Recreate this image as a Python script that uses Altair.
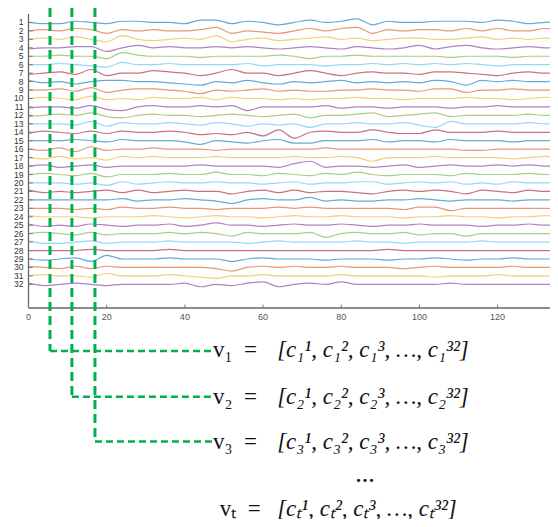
import altair as alt
import pandas as pd

# sample positions (time index) shared by every channel
t_index = [0, 4, 8, 12, 16, 20, 24, 28, 32, 36, 40, 44, 48, 52, 56, 60, 64, 68,
           72, 76, 80, 84, 88, 92, 96, 100, 104, 108, 112, 116, 120, 124, 128, 132, 136]

# amplitude of each channel (pixels up from the baseline)
ch01 = [0,-1,-1,1,0,-1,1,1,0,0,-1,2,2,-1,1,0,-2,0, 2,0,1,3,-2,1,0,0,1,1,1,0,2,1,-1,0,1]
ch02 = [0,1,0,2,1,-2,1,0,1,0,0,1,3,-2,0,-1,-2,0, 2,0,2,3,-2,1,0,1,1,0,2,0,2,0,0,2,1]
ch03 = [0,1,0,2,0,-2,3,0,-1,0,1,0,3,-2,0,1,-1,0, 1,2,0,1,-1,0,1,1,0,0,1,2,0,1,0,1,0]
ch04 = [-1,0,0,1,1,-3,0,2,0,1,0,0,1,0,1,0,-1,0, 1,0,-1,1,0,-1,0,2,-1,1,2,0,-1,0,1,0,0]
ch05 = [0,0,1,0,0,-2,3,1,0,0,0,-1,0,0,0,0,1,0, -2,0,0,1,0,0,0,0,0,-1,0,0,0,-1,0,0,0]
ch06 = [0,0,1,0,-1,-2,2,0,0,1,0,0,0,0,1,-1,0,0, 0,-1,0,0,1,0,1,0,1,0,1,0,-1,0,0,0,1]
ch07 = [-1,0,1,-1,3,-2,0,0,2,1,0,-2,0,3,0,0,-2,0, 2,0,-2,0,1,0,0,-1,1,1,0,-1,-2,0,1,0,0]
ch08 = [1,-1,0,-2,0,1,1,0,0,-1,-2,-3,0,-1,1,-1,-2,0, -1,0,1,-1,0,-1,0,-1,1,0,-3,1,0,1,0,0,1]
ch09 = [0,0,1,-1,2,-2,0,1,1,0,-1,-3,0,-1,0,1,-1,0, -1,-1,0,0,1,0,0,-1,1,1,-2,0,0,1,0,0,0]
ch10 = [0,1,0,-1,2,-1,0,-1,1,0,0,1,-1,1,0,0,-1,0, -1,0,0,1,0,0,-1,0,0,0,1,0,0,-1,0,1,0]
ch11 = [-1,0,0,-1,1,-2,-3,0,1,0,0,1,0,1,-3,0,0,0, 0,1,-1,0,0,-1,0,0,0,-1,0,0,1,0,0,0,0]
ch12 = [-1,0,1,0,2,-1,-2,0,1,0,0,-1,0,1,0,-1,0,1, -2,0,0,1,2,-1,0,1,2,-1,0,0,0,0,1,0,0]
ch13 = [0,0,0,-1,2,-2,1,0,0,1,0,-1,1,0,-2,0,-1,0, -3,0,0,1,0,0,1,-1,-3,2,0,0,0,0,1,0,0]
ch14 = [-1,1,0,-1,1,-1,1,0,0,1,0,-2,-1,-2,0,-3,2,-5, 0,1,0,0,2,0,-1,-1,2,0,0,0,1,0,0,0,0]
ch15 = [0,0,0,1,0,-1,1,0,0,0,-1,-3,0,-1,-2,0,1,-2, -2,0,0,0,1,-1,0,0,-1,1,0,0,0,-1,0,0,0]
ch16 = [0,-1,1,-2,2,-1,0,0,1,0,0,0,-1,0,0,0,0,0, 0,1,0,0,0,0,0,0,0,0,-1,-1,0,0,0,0,0]
ch17 = [0,-1,1,-1,0,-2,1,0,1,0,0,0,1,0,0,0,0,1, 0,0,1,0,-3,0,0,0,1,0,0,0,0,-1,0,1,0]
ch18 = [0,1,-1,0,1,-1,0,0,0,0,0,1,0,0,0,0,-1,2, 4,-1,0,0,-1,0,1,-1,0,1,0,0,1,0,1,0,0]
ch19 = [0,1,0,-1,1,-2,0,0,0,1,0,0,2,0,0,-1,1,0, -1,1,0,2,0,-1,0,0,0,-1,1,0,0,0,1,0,0]
ch20 = [0,0,0,-1,0,-2,1,-1,0,1,0,0,1,0,0,-1,0,1, -1,0,0,1,1,-1,0,1,0,1,-1,0,-1,1,0,0,0]
ch21 = [1,-1,0,-1,0,1,-1,1,-1,0,1,0,0,-2,0,1,-1,1, -1,0,0,-1,-2,0,1,0,1,0,-2,1,0,-1,1,0,0]
ch22 = [0,0,0,0,0,0,1,-1,0,0,1,0,-1,-3,0,1,0,0, 2,-1,0,-1,-1,0,0,1,0,-1,0,0,0,-1,0,0,0]
ch23 = [0,0,0,-1,0,-1,1,0,0,1,0,0,-1,0,0,0,1,0, 1,0,0,0,0,0,-1,1,1,-2,0,0,0,0,0,0,0]
ch24 = [1,0,0,0,-1,0,0,0,1,0,-1,0,1,0,0,-1,0,1, 0,0,1,0,0,0,-1,0,0,1,0,0,-1,0,0,1,0]
ch25 = [1,-1,0,-1,1,0,-1,0,0,1,-1,0,2,0,0,-1,0,1, 0,0,1,0,-1,0,0,1,0,0,0,-1,0,0,1,0,0]
ch26 = [0,1,0,-1,1,-1,0,0,0,1,0,1,0,-2,1,0,0,0, 1,-3,0,1,0,0,1,-1,0,0,-2,0,0,0,0,0,0]
ch27 = [1,-1,-1,0,1,-1,0,0,0,1,0,0,0,0,-1,0,1,0, 0,0,0,1,0,0,-1,0,0,0,0,1,0,0,0,0,0]
ch28 = [0,0,0,0,1,0,0,0,0,1,0,0,0,0,0,0,0,0, 0,0,0,0,0,1,0,0,0,0,0,0,0,0,0,0,0]
ch29 = [0,-1,0,1,-2,3,0,0,0,1,0,0,0,-2,0,1,0,0, 0,-1,0,0,0,-1,0,0,1,0,-1,0,0,1,0,0,0]
ch30 = [1,0,-1,1,-1,1,0,0,0,0,0,0,-1,-3,0,1,0,1, 0,0,1,0,0,0,-1,0,1,0,0,0,0,1,0,0,0]
ch31 = [0,1,0,0,-1,2,0,0,0,1,0,-1,-2,0,0,1,0,0, 0,0,1,0,0,0,0,0,-1,0,0,0,1,0,0,0,0]
ch32 = [1,-1,0,1,0,-1,0,0,0,0,1,-2,0,-1,1,2,-2,0, 1,0,2,0,0,0,0,0,0,1,0,0,0,0,0,0,0]

channels = [ch01, ch02, ch03, ch04, ch05, ch06, ch07, ch08, ch09, ch10, ch11, ch12,
            ch13, ch14, ch15, ch16, ch17, ch18, ch19, ch20, ch21, ch22, ch23, ch24,
            ch25, ch26, ch27, ch28, ch29, ch30, ch31, ch32]
channel_ids = list(range(1, 33))
x_ticks = [0, 20, 40, 60, 80, 100, 120]
x_range = [0, 133.4]
y_range = [0, 34.8]

palette = ["#0072BD", "#D95319", "#EDB120", "#7E2F8E", "#77AC30", "#4DBEEE", "#A2142F"]

# marked time steps and the formula rows they lead to
guide_t = [5.5, 11.1, 17.0]
guide_row = [39.9, 45.3, 50.6]
formula_rows = [39.8, 45.3, 50.65, 54.8, 58.6]
formula_left = ["v\u2081\u00A0\u00A0=", "v\u2082\u00A0\u00A0=", "v\u2083\u00A0\u00A0=", "",
                "v\u209C\u00A0\u00A0="]
formula_left_t = [47.2, 47.2, 47.2, 47.2, 48.9]
formula_right = [
    "[c\u2081\u00B9, c\u2081\u00B2, c\u2081\u00B3, \u2026, c\u2081\u00B3\u00B2]",
    "[c\u2082\u00B9, c\u2082\u00B2, c\u2082\u00B3, \u2026, c\u2082\u00B3\u00B2]",
    "[c\u2083\u00B9, c\u2083\u00B2, c\u2083\u00B3, \u2026, c\u2083\u00B3\u00B2]",
    "",
    "[c\u209C\u00B9, c\u209C\u00B2, c\u209C\u00B3, \u2026, c\u209C\u00B3\u00B2]",
]

rows = []
for cid, amps in zip(channel_ids, channels):
    for t, a in zip(t_index, amps):
        rows.append({"channel": cid, "t": t, "amp": a})
df = pd.DataFrame(rows)

X_SCALE = alt.Scale(domain=x_range, nice=False, zero=False)
Y_SCALE = alt.Scale(domain=y_range, reverse=True, nice=False, zero=False)


def X(field):
    return alt.X(field, type="quantitative", scale=X_SCALE, axis=None)


def Y(field):
    return alt.Y(field, type="quantitative", scale=Y_SCALE, axis=None)


lines = alt.Chart(df).transform_calculate(
    y="datum.channel - datum.amp / 7.0"
).mark_line(interpolate="monotone", strokeWidth=1.2, opacity=0.6, clip=True).encode(
    x=X("t"), y=Y("y"),
    color=alt.Color("channel:N", legend=None,
                    scale=alt.Scale(domain=channel_ids,
                                    range=[palette[(c - 1) % 7] for c in channel_ids])),
)

# axis frame (left and bottom lines)
frame_df = pd.DataFrame({"x0": [x_range[0], x_range[0]], "x1": [x_range[0], x_range[1]],
                         "y0": [y_range[0], y_range[1]], "y1": [y_range[1], y_range[1]]})
frame = alt.Chart(frame_df).mark_rule(color="#666", strokeWidth=1.3).encode(
    x=X("x0"), x2="x1", y=Y("y0"), y2="y1",
)

ytick_df = pd.DataFrame({"channel": channel_ids, "t0": 0.0, "t1": 1.1,
                         "label": [str(c) for c in channel_ids]})
yticks = alt.Chart(ytick_df).mark_rule(color="#777", strokeWidth=1).encode(
    x=X("t0"), x2="t1", y=Y("channel"),
)
ylabels = alt.Chart(ytick_df).mark_text(
    align="right", baseline="middle", dx=-5, fontSize=8.5, font="Liberation Sans",
    color="#333", clip=False
).encode(x=X("t0"), y=Y("channel"), text="label:N")

xtick_df = pd.DataFrame({"t": x_ticks, "y0": 34.8, "y1": 34.4,
                         "label": [str(v) for v in x_ticks]})
xticks = alt.Chart(xtick_df).mark_rule(color="#777", strokeWidth=1).encode(
    x=X("t"), y=Y("y0"), y2="y1",
)
xlabels = alt.Chart(xtick_df).mark_text(
    align="center", baseline="middle", dy=9, fontSize=9, font="Liberation Sans",
    color="#555", clip=False
).encode(x=X("t"), y=Y("y0"), text="label:N")

guide_df = pd.DataFrame({"t": guide_t, "top": -0.71, "row": guide_row, "end": 47.0})
vguides = alt.Chart(guide_df).mark_rule(
    color="#00B050", strokeWidth=3, strokeDash=[9, 5], clip=False
).encode(x=X("t"), y=Y("top"), y2="row")
hguides = alt.Chart(guide_df).mark_rule(
    color="#00B050", strokeWidth=2.5, strokeDash=[7, 4], clip=False
).encode(x=X("t"), x2="end", y=Y("row"))

fdf = pd.DataFrame({"row": formula_rows, "left": formula_left, "lt": formula_left_t,
                    "right": formula_right, "rt": 63.6})
ftext_left = alt.Chart(fdf).mark_text(
    align="left", baseline="middle", fontSize=23, font="Liberation Serif", color="#111", clip=False
).encode(x=X("lt"), y=Y("row"), text="left:N")
ftext_right = alt.Chart(fdf).mark_text(
    align="left", baseline="middle", fontSize=23, font="Liberation Serif", fontStyle="italic",
    color="#111", clip=False
).encode(x=X("rt"), y=Y("row"), text="right:N")

dots_df = pd.DataFrame({"t": [86.1], "row": [55.3], "txt": ["\u2022\u2022\u2022"]})
dots = alt.Chart(dots_df).mark_text(
    align="center", baseline="middle", fontSize=11, font="DejaVu Sans", color="#111", clip=False
).encode(x=X("t"), y=Y("row"), text="txt:N")

chart = alt.layer(lines, frame, yticks, ylabels, xticks, xlabels, vguides, hguides,
                  ftext_left, ftext_right, dots).properties(
    width=521.5, height=294,
    autosize=alt.AutoSizeParams(type="none"),
    padding={"left": 20.5, "top": 6, "right": 0, "bottom": 211},
    background="white",
).configure_view(stroke=None)

chart.save("out.html", embed_options={"renderer": "svg", "actions": False})
